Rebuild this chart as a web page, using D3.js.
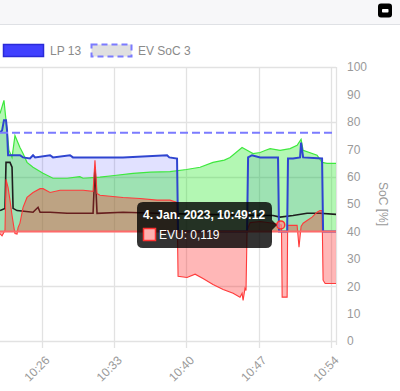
<!DOCTYPE html>
<html>
<head>
<meta charset="utf-8">
<script src="https://cdn.jsdelivr.net/npm/d3@7"></script>
<style>
html,body{margin:0;padding:0;background:#fff;}
svg{display:block;font-family:"Liberation Sans",Arial,Helvetica,sans-serif;}
</style>
</head>
<body>
<svg id="chart" width="400" height="391"></svg>
<script>
// ---- data (time of day, kW / %) ----
const pvTimes = ["10:21:56","10:22:19","10:22:37","10:22:48","10:23:06","10:23:23","10:23:35","10:23:52","10:24:10","10:24:33","10:25:08","10:26:06","10:27:04","10:28:26","10:29:40","10:29:59","10:31:37","10:33:00","10:34:49","10:36:30","10:38:24","10:40:00","10:41:19","10:42:34","10:43:40","10:44:13","10:45:23","10:45:52","10:46:27","10:47:08","10:47:40","10:48:06","10:49:04","10:50:02","10:50:43","10:51:06","10:51:18","10:52:39","10:53:08","10:53:37","10:54:35"];
const pvValues = [2.15,2.39,1.84,1.48,1.35,1.75,1.66,1.53,1.42,1.26,1.17,1.06,0.97,0.97,1.0,0.97,0.99,1.02,1.06,1.08,1.09,1.13,1.17,1.26,1.30,1.35,1.53,1.48,1.42,1.44,1.48,1.51,1.48,1.51,1.57,1.68,1.48,1.39,1.26,1.24,1.24];

const lpTimes = ["10:21:56","10:22:08","10:22:19","10:22:31","10:22:37","10:22:43","10:23:52","10:24:10","10:24:50","10:25:08","10:25:20","10:26:47","10:27:04","10:28:43","10:29:00","10:31:37","10:33:51","10:38:07","10:38:20","10:39:05","10:39:11","10:45:52","10:45:58","10:46:21","10:47:08","10:48:52","10:48:58","10:49:45","10:49:50","10:50:19","10:51:00","10:51:06","10:51:18","10:53:08","10:53:14","10:54:35"];
const lpValues = [1.81,1.84,2.03,2.03,1.84,1.39,1.39,1.35,1.33,1.39,1.35,1.39,1.35,1.39,1.35,1.35,1.35,1.39,1.35,1.33,0,0,1.35,1.39,1.35,1.35,0,0,1.33,1.33,1.35,1.62,1.35,1.33,0,0];

const evuTimes = ["10:21:56","10:22:08","10:22:25","10:22:31","10:22:43","10:22:54","10:23:06","10:23:18","10:23:23","10:23:35","10:23:41","10:23:52","10:24:10","10:24:33","10:25:08","10:25:49","10:26:06","10:26:47","10:27:45","10:28:43","10:29:59","10:30:57","10:31:08","10:31:20","10:31:37","10:33:51","10:35:30","10:37:09","10:38:24","10:39:05","10:39:11","10:40:03","10:40:50","10:41:36","10:42:34","10:43:33","10:44:31","10:45:11","10:45:23","10:45:29","10:45:40","10:45:46","10:45:52","10:46:10","10:47:08","10:48:23","10:49:12","10:49:16","10:49:45","10:49:48","10:50:43","10:50:54","10:51:06","10:51:18","10:51:41","10:52:10","10:52:39","10:52:56","10:53:08","10:53:14","10:53:26","10:54:35"];
const evuValues = [-0.04,-0.08,0.02,0.95,0.80,0.57,0.29,0.05,-0.04,-0.05,0.07,0.15,0.44,0.62,0.71,0.78,0.78,0.71,0.75,0.75,0.75,0.73,1.30,0.69,0.66,0.62,0.60,0.57,0.57,0.53,-0.82,-0.84,-0.78,-0.86,-0.97,-1.06,-1.13,-1.20,-1.13,-1.26,-1.04,-1.08,0.02,0.16,0.18,0.15,0.119,-1.20,-1.20,0.11,0.11,-0.29,0.09,0.15,0.20,0.26,0.35,0.38,0.38,-0.89,-0.95,-0.95];

const houseTimes = ["10:21:56","10:22:25","10:22:31","10:22:54","10:23:06","10:23:12","10:23:35","10:25:08","10:25:37","10:25:49","10:26:47","10:28:26","10:30:57","10:31:08","10:31:20","10:33:51","10:37:09","10:41:19","10:45:00","10:48:23","10:49:04","10:50:19","10:51:41","10:52:56","10:54:35"];
const houseValues = [0.38,0.42,1.26,1.26,1.17,0.42,0.38,0.35,0.44,0.35,0.35,0.33,0.33,1.17,0.33,0.35,0.33,0.31,0.30,0.29,0.26,0.29,0.33,0.33,0.31];

const socLevel = 76;
const xTickLabels = ["10:26","10:33","10:40","10:47","10:54"];
const socTicks = [0,10,20,30,40,50,60,70,80,90,100];
const powerTicks = [-2,-1,0,1,2,3];
const legendItems = ["LP 13","EV SoC 3"];
const tooltipTitle = "4. Jan. 2023, 10:49:12";
const tooltipLabel = "EVU: 0,119";
const hoverTime = "10:49:08";
const hoverValue = 0.119;

// ---- setup ----
const parse = d3.timeParse("%H:%M:%S");
const svg = d3.select("#chart");
const W = 400, H = 391;
const plot = {left: 0, right: 336, top: 67, bottom: 341};

const x = d3.scaleTime().domain([parse("10:21:56"), parse("10:54:29")]).range([plot.left, plot.right]);
const yP = d3.scaleLinear().domain([-2, 3]).range([plot.bottom, plot.top]);
const yS = d3.scaleLinear().domain([0, 100]).range([plot.bottom, plot.top]);

const zip = (t, v) => t.map((s, i) => ({t: parse(s), v: v[i]}));
const pv = zip(pvTimes, pvValues);
const lp = zip(lpTimes, lpValues);
const evu = zip(evuTimes, evuValues);
const house = zip(houseTimes, houseValues);

// header bar
svg.append("rect").attr("x",0).attr("y",0).attr("width",W).attr("height",24).attr("fill","#f7f7f9");
svg.append("line").attr("x1",0).attr("x2",W).attr("y1",24.5).attr("y2",24.5).attr("stroke","#dfe1e5");
svg.append("rect").attr("x",378).attr("y",3.5).attr("width",14).attr("height",14).attr("rx",3).attr("fill","#000");
svg.append("rect").attr("x",382).attr("y",9).attr("width",6.5).attr("height",3.5).attr("rx",0.8).attr("fill","#fff");

// legend
const lg = svg.append("g");
lg.append("rect").attr("x",3.5).attr("y",44.5).attr("width",40).attr("height",12).attr("fill","#4040ff").attr("stroke","#2a2ad8").attr("stroke-width",1.5);
lg.append("text").attr("x",50).attr("y",54.5).attr("font-size",12).attr("fill","#8a8a8a").text(legendItems[0]);
lg.append("rect").attr("x",91.5).attr("y",44.5).attr("width",40).attr("height",12).attr("fill","#e0e0e0").attr("stroke","#7b7bff").attr("stroke-width",2).attr("stroke-dasharray","6,4");
lg.append("text").attr("x",138).attr("y",54.5).attr("font-size",12).attr("fill","#8a8a8a").text(legendItems[1]);

// grid
const grid = svg.append("g");
powerTicks.forEach(v => {
  grid.append("line").attr("x1",plot.left).attr("x2",plot.right)
    .attr("y1",Math.round(yP(v))+0.5).attr("y2",Math.round(yP(v))+0.5)
    .attr("stroke","#e2e2e2").attr("stroke-width",1.3);
});
const tickDates = xTickLabels.map(s => parse(s + ":00"));
tickDates.forEach(d => {
  grid.append("line").attr("x1",Math.round(x(d))+0.5).attr("x2",Math.round(x(d))+0.5)
    .attr("y1",plot.top).attr("y2",plot.bottom+7).attr("stroke","#e2e2e2").attr("stroke-width",1.3);
});
grid.append("line").attr("x1",plot.right+0.5).attr("x2",plot.right+0.5).attr("y1",plot.top).attr("y2",plot.bottom+4)
  .attr("stroke","#e2e2e2").attr("stroke-width",1.3);

// clip
svg.append("clipPath").attr("id","clip").append("rect")
  .attr("x",plot.left).attr("y",plot.top).attr("width",plot.right-plot.left).attr("height",plot.bottom-plot.top);
const g = svg.append("g").attr("clip-path","url(#clip)");

const area = d3.area().x(d => x(d.t)).y0(yP(0)).y1(d => yP(d.v));
const line = d3.line().x(d => x(d.t)).y(d => yP(d.v));

g.append("path").datum(lp).attr("d",area).attr("fill","rgba(40,40,255,0.14)");
g.append("path").datum(pv).attr("d",area).attr("fill","rgba(20,230,20,0.32)");
g.append("path").datum(pv).attr("d",line).attr("fill","none").attr("stroke","#3ee83e").attr("stroke-width",1.2);
g.append("path").datum(house).attr("d",line).attr("fill","none").attr("stroke","#1e1e1e").attr("stroke-width",1.6);
g.append("path").datum(evu).attr("d",area).attr("fill","rgba(255,30,30,0.32)");
g.append("path").datum(evu).attr("d",line).attr("fill","none").attr("stroke","#ff3b3b").attr("stroke-width",1.1);
g.append("path").datum(lp).attr("d",line).attr("fill","none").attr("stroke","#2f45d0").attr("stroke-width",2);
g.append("line").attr("x1",plot.left).attr("x2",plot.right).attr("y1",yP(0)).attr("y2",yP(0))
  .attr("stroke","#ff6a6a").attr("stroke-width",2);
g.append("line").attr("x1",plot.left).attr("x2",plot.right).attr("y1",yS(socLevel)).attr("y2",yS(socLevel))
  .attr("stroke","#7b7bff").attr("stroke-width",2).attr("stroke-dasharray","8,4");

// right axis
const ra = svg.append("g").attr("transform",`translate(${plot.right},0)`)
  .call(d3.axisRight(yS).tickValues(socTicks).tickSize(0).tickPadding(11));
ra.select(".domain").remove();
ra.selectAll("text").attr("font-size",12).attr("fill","#9a9a9a").attr("font-family","Liberation Sans, Arial, sans-serif");
svg.append("text").attr("transform",`translate(379,${(plot.top+plot.bottom)/2}) rotate(90)`)
  .attr("text-anchor","middle").attr("font-size",12).attr("fill","#9a9a9a").text("SoC [%]");

// bottom axis labels
const xa = svg.append("g").attr("transform",`translate(0,${plot.bottom})`)
  .call(d3.axisBottom(x).tickValues(tickDates).tickFormat((d,i) => xTickLabels[i]).tickSize(0));
xa.select(".domain").remove();
xa.selectAll("text")
  .attr("font-size",12).attr("fill","#9a9a9a").attr("font-family","Liberation Sans, Arial, sans-serif")
  .attr("text-anchor","end").attr("y",0).attr("dy","0.35em")
  .attr("transform","translate(5,17) rotate(-45)");

// hover point
const hx = x(parse(hoverTime)), hy = yP(hoverValue);
svg.append("circle").attr("cx",hx).attr("cy",hy).attr("r",4).attr("fill","rgba(255,140,140,0.7)").attr("stroke","#ff3030").attr("stroke-width",1.5);

// tooltip
const tt = svg.append("g");
const tx = 137, ty = 202, tw = 135, th = 46;
tt.append("path").attr("d",`M${tx+6},${ty} H${tx+tw-6} Q${tx+tw},${ty} ${tx+tw},${ty+6} V${hy-5} L${tx+tw+5},${hy} L${tx+tw},${hy+5} V${ty+th-6} Q${tx+tw},${ty+th} ${tx+tw-6},${ty+th} H${tx+6} Q${tx},${ty+th} ${tx},${ty+th-6} V${ty+6} Q${tx},${ty} ${tx+6},${ty} Z`)
  .attr("fill","rgba(0,0,0,0.8)");
tt.append("text").attr("x",143).attr("y",218.5).attr("font-size",12).attr("font-weight","bold").attr("fill","#fff").text(tooltipTitle);
tt.append("rect").attr("x",143.5).attr("y",228.5).attr("width",12).attr("height",12).attr("fill","#ffb0b0").attr("stroke","#ff3030").attr("stroke-width",1.5);
tt.append("text").attr("x",159).attr("y",239).attr("font-size",12).attr("fill","#fff").text(tooltipLabel);
</script>
</body>
</html>
